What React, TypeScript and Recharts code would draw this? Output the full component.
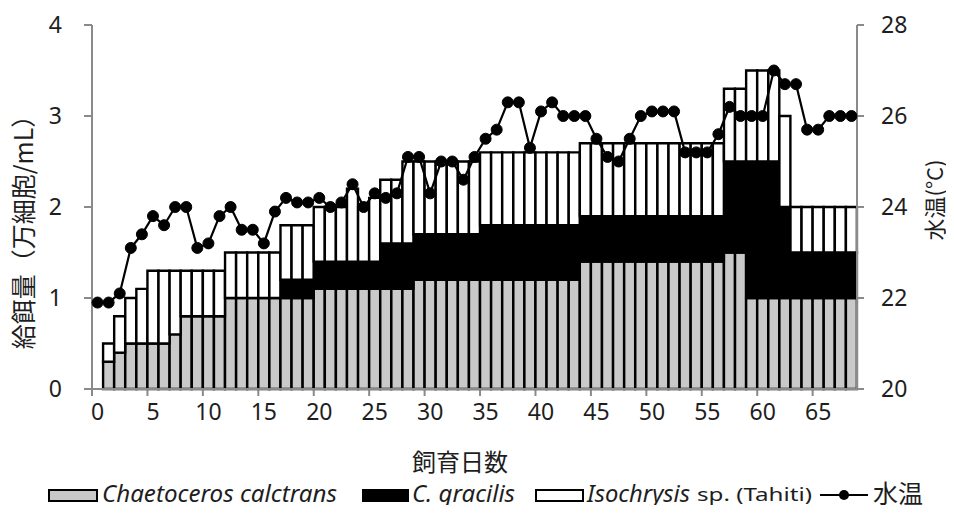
import React from 'react';
import { ComposedChart, Bar, Line, XAxis, YAxis } from 'recharts';

// rearing days 0..68
const days = Array.from({ length: 69 }, (_, i) => i);

// feed per day (10^4 cells/mL), stacked by species
const chaetoceros = [
  0, 0.3, 0.4, 0.5, 0.5, 0.5, 0.5, 0.6, 0.8, 0.8,
  0.8, 0.8, 1.0, 1.0, 1.0, 1.0, 1.0, 1.0, 1.0, 1.0,
  1.1, 1.1, 1.1, 1.1, 1.1, 1.1, 1.1, 1.1, 1.1, 1.2,
  1.2, 1.2, 1.2, 1.2, 1.2, 1.2, 1.2, 1.2, 1.2, 1.2,
  1.2, 1.2, 1.2, 1.2, 1.4, 1.4, 1.4, 1.4, 1.4, 1.4,
  1.4, 1.4, 1.4, 1.4, 1.4, 1.4, 1.4, 1.5, 1.5, 1.0,
  1.0, 1.0, 1.0, 1.0, 1.0, 1.0, 1.0, 1.0, 1.0,
];
const gracilis = [
  0, 0, 0, 0, 0, 0, 0, 0, 0, 0,
  0, 0, 0, 0, 0, 0, 0, 0.2, 0.2, 0.2,
  0.3, 0.3, 0.3, 0.3, 0.3, 0.3, 0.5, 0.5, 0.5, 0.5,
  0.5, 0.5, 0.5, 0.5, 0.5, 0.6, 0.6, 0.6, 0.6, 0.6,
  0.6, 0.6, 0.6, 0.6, 0.5, 0.5, 0.5, 0.5, 0.5, 0.5,
  0.5, 0.5, 0.5, 0.5, 0.5, 0.5, 0.5, 1.0, 1.0, 1.5,
  1.5, 1.5, 1.0, 0.5, 0.5, 0.5, 0.5, 0.5, 0.5,
];
const isochrysis = [
  0, 0.2, 0.4, 0.5, 0.6, 0.8, 0.8, 0.7, 0.5, 0.5,
  0.5, 0.5, 0.5, 0.5, 0.5, 0.5, 0.5, 0.6, 0.6, 0.6,
  0.6, 0.6, 0.6, 0.8, 0.6, 0.7, 0.7, 0.7, 0.9, 0.8,
  0.8, 0.8, 0.8, 0.8, 0.8, 0.8, 0.8, 0.8, 0.8, 0.8,
  0.8, 0.8, 0.8, 0.8, 0.8, 0.8, 0.8, 0.8, 0.8, 0.8,
  0.8, 0.8, 0.8, 0.8, 0.8, 0.8, 0.8, 0.8, 0.8, 1.0,
  1.0, 1.0, 1.0, 0.5, 0.5, 0.5, 0.5, 0.5, 0.5,
];
// water temperature (°C)
const waterTemp = [
  21.9, 21.9, 22.1, 23.1, 23.4, 23.8, 23.6, 24.0, 24.0, 23.1,
  23.2, 23.8, 24.0, 23.5, 23.5, 23.2, 23.9, 24.2, 24.1, 24.1,
  24.2, 24.0, 24.1, 24.5, 24.0, 24.3, 24.2, 24.3, 25.1, 25.1,
  24.3, 25.0, 25.0, 24.6, 25.1, 25.5, 25.7, 26.3, 26.3, 25.3,
  26.1, 26.3, 26.0, 26.0, 26.0, 25.5, 25.1, 25.0, 25.5, 26.0,
  26.1, 26.1, 26.1, 25.2, 25.2, 25.2, 25.6, 26.2, 26.0, 26.0,
  26.0, 27.0, 26.7, 26.7, 25.7, 25.7, 26.0, 26.0, 26.0,
];

const feedTicks = [0, 1, 2, 3, 4];
const tempTicks = [20, 22, 24, 26, 28];

const data = days.map((d, i) => ({
  day: d,
  chaetoceros: chaetoceros[i],
  gracilis: gracilis[i],
  isochrysis: isochrysis[i],
  temp: waterTemp[i],
}));

const W = 938;
const H = 497;
const LEFT_W = 84;
const RIGHT_W = 89;
const PLOT_W = W - LEFT_W - RIGHT_W;
const BAND = PLOT_W / days.length;

const AXIS = '#8a8a8a';
const INK = '#1e1e1e';
const GRAY = '#c9c9c9';
const NUM_FONT = '"Noto Sans", "Open Sans", sans-serif';
const JP_FONT = '"Noto Sans CJK JP", "Noto Sans", sans-serif';

const DayTick = (props: any) => {
  const { x, y, payload } = props;
  const d = payload.value;
  if (d % 5 !== 0) return <g />;
  const edge = x - BAND / 2;
  return (
    <g>
      <line x1={edge} x2={edge} y1={y} y2={y + 7} stroke={AXIS} strokeWidth={2} />
      <text x={x} y={y + 31} textAnchor="middle" fontSize={23} fill={INK} fontFamily={NUM_FONT}>
        {d}
      </text>
    </g>
  );
};

const feedTitle = () => (
  <text transform="rotate(-90)" x={-218} y={16} dy="0.35em" textAnchor="middle"
    fontSize={25} fill={INK} fontFamily={JP_FONT}>
    給餌量（万細胞/mL）
  </text>
);

const tempTitle = () => (
  <text transform="rotate(-90)" x={-192} y={927} dy="0.35em" textAnchor="middle"
    fontSize={22} fill={INK} fontFamily={JP_FONT}>
    水温(°C)
  </text>
);

const dayTitle = () => (
  <text x={452} y={455} dy="0.35em" textAnchor="middle" fontSize={24} fill={INK} fontFamily={JP_FONT}>
    飼育日数
  </text>
);

// legend strip under the axis title
const Legend = () => (
  <svg width={W} height={40} style={{ position: 'absolute', left: 0, top: 465, display: 'block', overflow: 'visible' }}>
    <rect x={41} y={17} width={48} height={11} fill={GRAY} stroke="#000" strokeWidth={2} />
    <text x={94} y={29} fontSize={24} fontStyle="italic" fill={INK} fontFamily={NUM_FONT}
      textLength={235} lengthAdjust="spacingAndGlyphs">Chaetoceros calctrans</text>
    <rect x={355} y={17} width={45} height={11} fill="#000" stroke="#000" strokeWidth={2} />
    <text x={404} y={29} fontSize={24} fontStyle="italic" fill={INK} fontFamily={NUM_FONT}
      textLength={103} lengthAdjust="spacingAndGlyphs">C. gracilis</text>
    <rect x={528} y={17} width={47} height={11} fill="#fff" stroke="#000" strokeWidth={2} />
    <text x={579} y={29} fontSize={24} fontStyle="italic" fill={INK} fontFamily={NUM_FONT}
      textLength={103} lengthAdjust="spacingAndGlyphs">Isochrysis</text>
    <text x={689} y={28} fontSize={18} fill={INK} fontFamily={NUM_FONT}
      textLength={115} lengthAdjust="spacingAndGlyphs">sp. (Tahiti)</text>
    <line x1={812} x2={860} y1={22} y2={22} stroke="#000" strokeWidth={2} />
    <circle cx={836} cy={22} r={5} fill="#000" />
    <text x={865} y={30} fontSize={25} fill={INK} fontFamily={JP_FONT}>水温</text>
  </svg>
);

export default function App() {
  return (
    <div style={{ position: 'relative', width: W, height: H }}>
      <ComposedChart
        width={W}
        height={H}
        data={data}
        margin={{ top: 17, right: 0, left: 0, bottom: 76 }}
        barCategoryGap={0}
        barGap={0}
      >
        <XAxis
          dataKey="day"
          type="category"
          interval={0}
          height={40}
          tickLine={false}
          tickSize={0}
          tickMargin={0}
          axisLine={{ stroke: AXIS, strokeWidth: 2 }}
          tick={DayTick}
          label={dayTitle}
        />
        <YAxis
          yAxisId="feed"
          orientation="left"
          width={LEFT_W}
          domain={[0, 4]}
          ticks={feedTicks}
          tickSize={8}
          tickMargin={22}
          axisLine={{ stroke: AXIS, strokeWidth: 2 }}
          tickLine={{ stroke: AXIS, strokeWidth: 2 }}
          tick={{ fontSize: 23, fill: INK, fontFamily: NUM_FONT }}
          label={feedTitle}
        />
        <YAxis
          yAxisId="temp"
          orientation="right"
          width={RIGHT_W}
          domain={[20, 28]}
          ticks={tempTicks}
          tickSize={7}
          tickMargin={17}
          axisLine={{ stroke: AXIS, strokeWidth: 2 }}
          tickLine={{ stroke: AXIS, strokeWidth: 2 }}
          tick={{ fontSize: 23, fill: INK, fontFamily: NUM_FONT }}
          label={tempTitle}
        />
        <Bar yAxisId="feed" dataKey="chaetoceros" stackId="feed" fill={GRAY}
          stroke="#000" strokeWidth={2.4} isAnimationActive={false} />
        <Bar yAxisId="feed" dataKey="gracilis" stackId="feed" fill="#000"
          stroke="#000" strokeWidth={2.4} isAnimationActive={false} />
        <Bar yAxisId="feed" dataKey="isochrysis" stackId="feed" fill="#fff"
          stroke="#000" strokeWidth={2.4} isAnimationActive={false} />
        <Line yAxisId="temp" dataKey="temp" type="linear" stroke="#000" strokeWidth={2.2}
          dot={{ r: 5.5, fill: '#000', stroke: '#000', strokeWidth: 1 }}
          isAnimationActive={false} />
      </ComposedChart>
      <Legend />
    </div>
  );
}
